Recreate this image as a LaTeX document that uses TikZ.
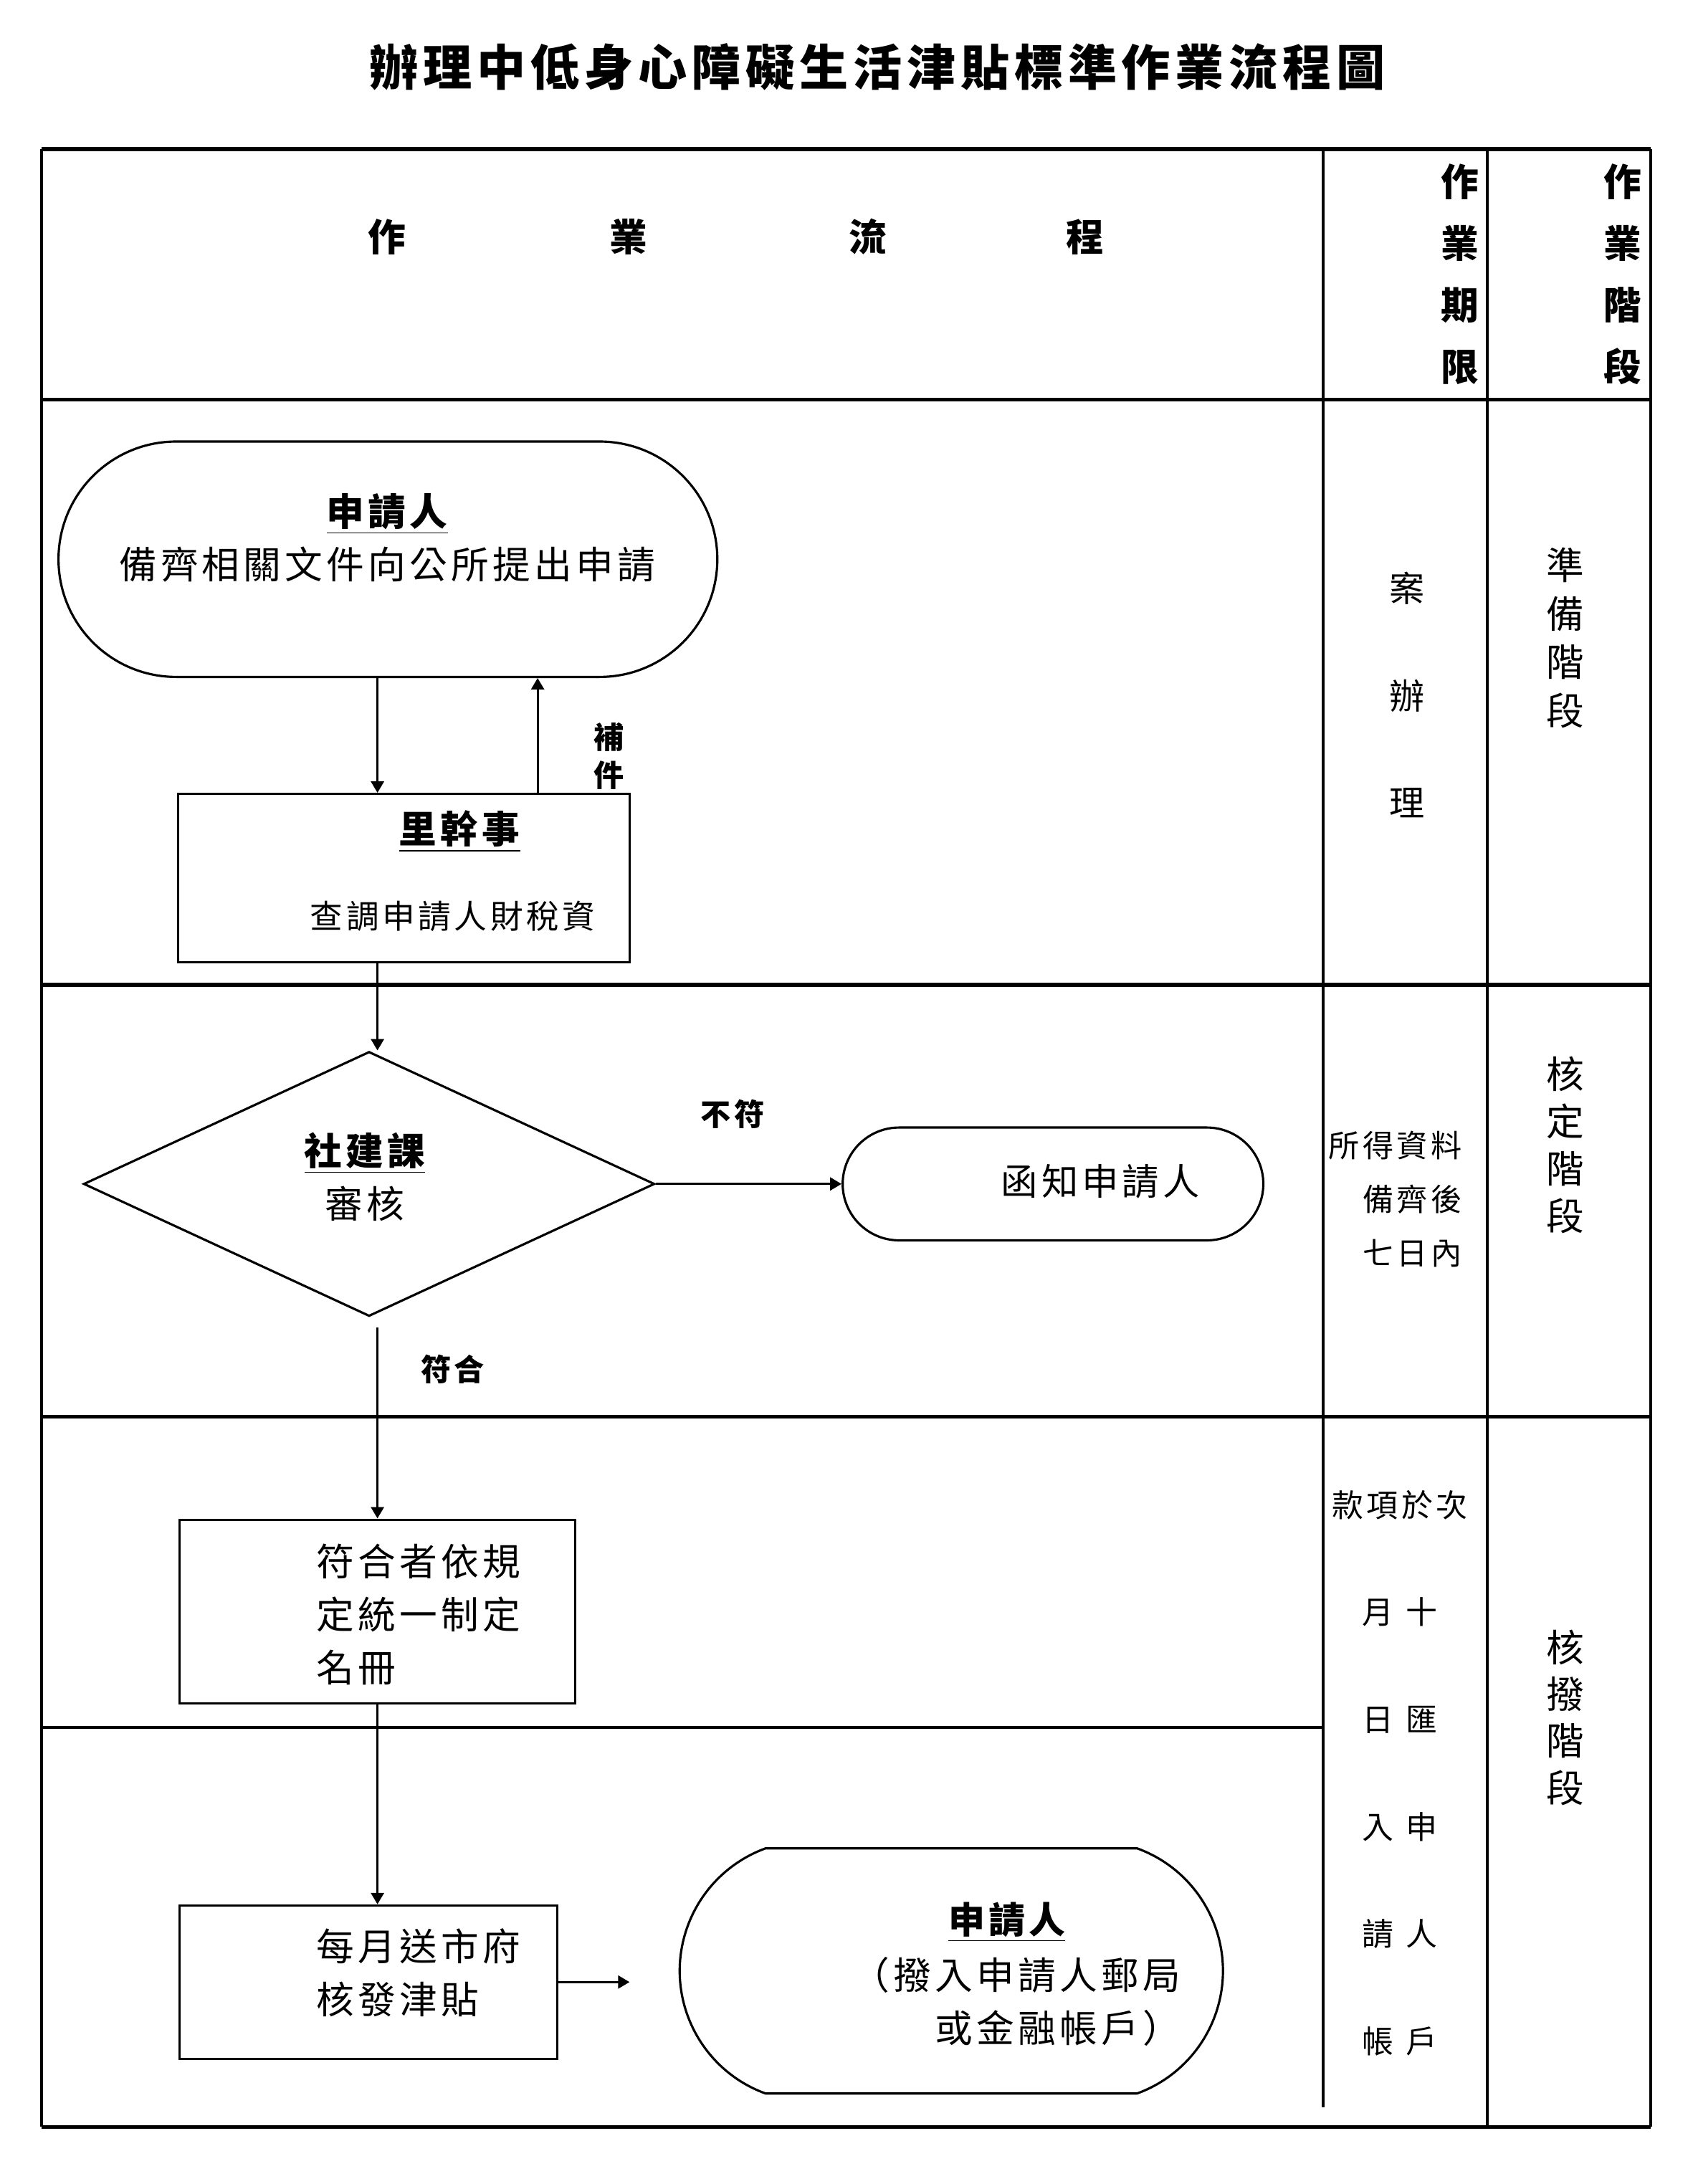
\documentclass[tikz,border=0pt]{standalone}
\usepackage{fontspec}
\setmainfont{Noto Sans CJK TC}
\newfontfamily\cjksp[LetterSpace=10]{Noto Sans CJK TC}
\usetikzlibrary{arrows.meta,shapes.geometric,shapes.misc}
\newlength\pxu
\setlength\pxu{0.01944cm}

\begin{document}
\begin{tikzpicture}[x=\pxu,y=-\pxu,
    rule/.style={line width=1.5pt},
    col/.style={line width=1.1pt},
    flow/.style={draw,line width=0.9pt,inner sep=0pt},
    arr/.style={line width=0.9pt,-{Triangle[length=1.6mm,width=1.8mm]}},
    txt/.style={font=\cjksp\fontsize{15pt}{21pt}\selectfont,align=center,inner sep=0pt},
    tag/.style={font=\cjksp\bfseries\fontsize{12pt}{15pt}\selectfont,align=center,inner sep=0pt},
    head/.style={font=\bfseries\fontsize{15pt}{24.5pt}\selectfont,align=center,inner sep=0pt},
    side/.style={align=center,inner sep=0pt}]
  \useasboundingbox (0,0) rectangle (1215,1568);

  % title
  \node[font=\cjksp\bfseries\fontsize{19.4pt}{21pt}\selectfont] (title) at (630,48)
    {辦理中低身心障礙生活津貼標準作業流程圖};

  % table frame
  \draw[rule] (30,107) -- (1185,107);
  \draw[rule] (30,287) -- (1185,287);
  \draw[rule] (30,707) -- (1185,707);
  \draw[rule] (30,1017) -- (1185,1017);
  \draw[col] (30,1240) -- (950,1240);
  \draw[rule] (30,1527) -- (1185,1527);
  \foreach \x in {30,1068,1185}
    \draw[col] (\x,107) -- (\x,1527);
  \draw[col] (950,107) -- (950,1513);

  % header
  \foreach \c/\x in {作/278,業/451,流/623,程/779}
    \node[head] (h\x) at (\x,170) {\c};
  \node[head] (hlim) at (1048,197) {作\\業\\期\\限};
  \node[head] (hstg) at (1165,197) {作\\業\\階\\段};

  % flow shapes
  \node[flow,rounded rectangle,minimum width=473\pxu,minimum height=169\pxu] (app) at (278.5,401.5) {};
  \node[flow,rectangle,minimum width=324\pxu,minimum height=121\pxu] (lgs) at (290,630.5) {};
  \node[flow,diamond,minimum width=410\pxu,minimum height=190\pxu] (rev) at (265,850) {};
  \node[flow,rounded rectangle,minimum width=302\pxu,minimum height=81\pxu] (ntf) at (756,850) {};
  \node[flow,rectangle,minimum width=284\pxu,minimum height=132\pxu] (nm) at (271,1157) {};
  \node[flow,rectangle,minimum width=271\pxu,minimum height=110\pxu] (mp) at (264.5,1423) {};
  \node[flow,rounded rectangle,rounded rectangle arc length=140,
        minimum width=390\pxu,minimum height=176\pxu] (pay) at (683,1415) {};

  % texts in shapes
  \node[txt] (appT) at (278,386) {\textbf{\underline{申請人}}\\備齊相關文件向公所提出申請};
  \node[txt] (lgsT1) at (330,597) {\textbf{\underline{里幹事}}};
  \node[txt,font=\cjksp\fontsize{13pt}{18pt}\selectfont] (lgsT2) at (325,658) {查調申請人財稅資};
  \node[txt] (revT) at (262,845) {\textbf{\underline{社建課}}\\審核};
  \node[txt,font=\cjksp\fontsize{14.6pt}{20pt}\selectfont] (ntfT) at (790,848) {函知申請人};
  \node[txt,align=left,anchor=west] (nmT) at (227,1159) {符合者依規\\定統一制定\\名冊};
  \node[txt,align=left,anchor=west] (mpT) at (227,1416.5) {每月送市府\\核發津貼};
  \node[txt,font=\cjksp\bfseries\fontsize{14.5pt}{20pt}\selectfont] (payT1) at (723,1380) {\underline{申請人}};
  \node[txt,font=\cjksp\fontsize{15pt}{21pt}\selectfont,align=right,anchor=east] (payT2) at (848,1437)
    {（撥入申請人郵局\\或金融帳戶）};

  % connectors
  \coordinate (spine) at (271,0);
  \coordinate (back) at (386,0);
  \coordinate (okstart) at (271,953);
  \coordinate (pend) at (452,1423);
  \draw[arr] (app.south -| spine) -- (lgs.north -| spine);
  \draw[arr] (lgs.north -| back) -- (app.south -| back);
  \draw[arr] (lgs.south -| spine) -- (rev.north -| spine);
  \draw[arr] (rev.east) -- (ntf.west);
  \draw[arr] (okstart) -- (nm.north -| spine);
  \draw[arr] (nm.south -| spine) -- (mp.north -| spine);
  \draw[arr] (mp.east) -- (pend);

  % connector labels
  \node[tag] (lbMore) at (437,543) {補\\件};
  \node[tag] (lbNo) at (526,800) {不符};
  \node[tag] (lbYes) at (325,983) {符合};

  % time limit column
  \node[side,font=\fontsize{14pt}{42.6pt}\selectfont] (lim1) at (1010,499) {案\\辦\\理};
  \node[side,font=\cjksp\fontsize{12.3pt}{21.3pt}\selectfont,align=right,anchor=east] (lim2) at (1050,861)
    {所得資料\\備齊後\\七日內};
  \node[side,font=\cjksp\fontsize{12.5pt}{42.6pt}\selectfont] (lim3) at (1005,1273)
    {款項於次\\月\hspace{5pt}十\\日\hspace{5pt}匯\\入\hspace{5pt}申\\請\hspace{5pt}人\\帳\hspace{5pt}戶};

  % stage column
  \node[side,font=\fontsize{15pt}{19.2pt}\selectfont] (stg1) at (1124,458) {準\\備\\階\\段};
  \node[side,font=\fontsize{15pt}{18.8pt}\selectfont] (stg2) at (1124,822) {核\\定\\階\\段};
  \node[side,font=\fontsize{15pt}{18.6pt}\selectfont] (stg3) at (1124,1233) {核\\撥\\階\\段};
\end{tikzpicture}
\end{document}
